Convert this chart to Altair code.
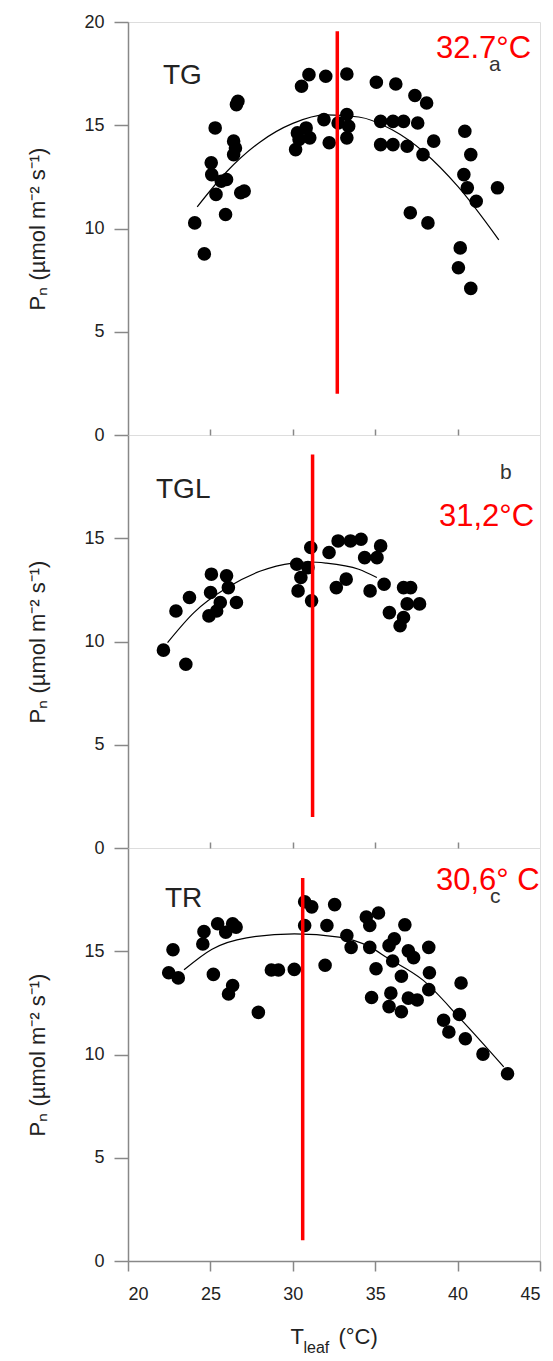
import altair as alt
import pandas as pd

# ---- Panel a: TG -------------------------------------------------------
tg_t = [24.05, 24.63, 25.29, 25.05, 25.08, 25.34, 25.66, 25.98, 25.92, 26.41,
        26.52, 26.41, 26.58, 26.67, 26.84, 27.05, 30.17, 30.28, 30.53, 30.98,
        30.81, 31.03, 30.38, 32.00, 31.89, 32.21, 33.28, 33.28, 33.39, 33.28,
        32.75, 35.07, 36.25, 35.33, 36.08, 36.72, 37.58, 35.33, 36.08, 36.94,
        37.41, 38.12, 37.90, 38.55, 37.13, 38.20, 40.44, 40.80, 40.38, 40.59,
        41.13, 40.16, 40.05, 40.80, 42.42]
tg_pn = [10.27, 8.77, 14.87, 13.18, 12.61, 11.65, 12.29, 12.37, 10.68, 14.23,
         13.90, 13.58, 16.00, 16.16, 11.73, 11.81, 13.82, 14.63, 16.89, 17.45,
         14.87, 14.39, 14.31, 17.37, 15.27, 14.15, 17.48, 15.52, 14.95, 14.39,
         15.11, 17.08, 17.00, 15.19, 15.19, 15.19, 15.11, 14.06, 14.06, 13.98,
         16.44, 16.08, 13.58, 14.23, 10.76, 10.27, 14.71, 13.58, 12.61, 11.97,
         11.32, 9.06, 8.10, 7.10, 11.97]
tg_fit_t = [24.2, 26, 28, 30, 32, 34, 36, 38, 40, 42.5]
tg_fit_pn = [11.05, 12.76, 14.18, 15.09, 15.50, 15.40, 14.79, 13.67, 12.05, 9.45]

# ---- Panel b: TGL ------------------------------------------------------
tgl_t = [22.15, 23.51, 22.91, 23.73, 25.06, 24.91, 25.01, 25.60, 25.98, 26.09,
         26.58, 25.38, 30.24, 30.32, 30.92, 31.14, 31.09, 30.49, 32.20, 32.75,
         33.50, 34.14, 34.36, 35.11, 35.33, 32.64, 33.24, 34.69, 35.54, 36.72,
         37.15, 35.86, 36.51, 36.94, 37.69, 36.72]
tgl_pn = [9.58, 8.90, 11.48, 12.13, 13.26, 11.24, 12.37, 11.89, 13.18, 12.61,
          11.89, 11.48, 13.74, 12.45, 13.58, 11.97, 14.55, 13.10, 14.31, 14.87,
          14.87, 14.95, 14.06, 14.06, 14.63, 12.61, 13.02, 12.45, 12.77, 12.61,
          12.61, 11.40, 10.76, 11.82, 11.82, 11.16]
tgl_fit_t = [22.4, 24, 26, 28, 30, 31, 32, 34, 35.1]
tgl_fit_pn = [9.95, 11.40, 12.60, 13.40, 13.80, 13.85, 13.80, 13.50, 13.10]

# ---- Panel c: TR -------------------------------------------------------
tr_t = [22.47, 23.05, 22.73, 24.61, 24.54, 25.44, 25.93, 26.35, 26.56, 25.18,
        26.10, 26.35, 27.91, 28.70, 29.13, 30.09, 30.72, 31.15, 30.72, 32.54,
        32.07, 31.96, 33.28, 33.54, 34.46, 34.67, 35.20, 34.67, 35.05, 34.78,
        35.84, 36.16, 36.06, 36.59, 35.95, 35.84, 36.59, 37.01, 37.55, 36.80,
        37.01, 37.33, 38.25, 38.29, 38.25, 39.15, 39.47, 40.11, 40.21, 40.47,
        41.54, 43.03]
tr_pn = [13.96, 13.71, 15.07, 15.95, 15.35, 16.33, 15.92, 16.33, 16.17, 13.88,
         12.93, 13.34, 12.04, 14.09, 14.09, 14.12, 17.40, 17.15, 16.25, 17.26,
         16.25, 14.32, 15.76, 15.19, 16.66, 16.25, 16.85, 15.19, 14.15, 12.76,
         15.27, 15.60, 14.53, 13.79, 12.97, 12.32, 12.07, 12.73, 12.64, 16.28,
         15.02, 14.69, 15.19, 13.96, 13.14, 11.66, 11.09, 11.94, 13.46, 10.76,
         10.02, 9.07]
tr_fit_t = [23.4, 25.1, 27.2, 30.1, 32.8, 34.7, 35.7, 37.9, 40.2, 42.8]
tr_fit_pn = [14.10, 15.10, 15.65, 15.84, 15.68, 15.20, 14.70, 13.60, 11.70, 9.40]

# optimum temperatures (°C) and the span of the marker line
optima = [32.7, 31.2, 30.6]
optima_text = ["32.7°C", "31,2°C", "30,6° C"]
line_lo = [2.0, 1.5, 1.0]
line_hi = [19.55, 19.05, 18.55]
groups = ["TG", "TGL", "TR"]
letters = ["a", "b", "c"]

FONT = "Liberation Sans"
W, H = 412, 413
DARK = "#222222"
GREY = "#888888"

# text placement inside each panel (pixels from the plot's top-left corner)
layout = [
    dict(group=(35, 62), letter=(361, 49), opt=(308, 36)),
    dict(group=(28, 63), letter=(372, 44), opt=(311, 91)),
    dict(group=(37, 59), letter=(362, 55), opt=(308, 42)),
]

X_SCALE = alt.Scale(domain=[20, 45], nice=False, zero=False)
Y_SCALE = alt.Scale(domain=[0, 20], nice=False)


def y_axis(values):
    return alt.Axis(
        values=values, tickSize=14, labelPadding=10, labelFontSize=18,
        labelColor=DARK, labelFont=FONT, domainColor=GREY, tickColor=GREY,
        domainWidth=1.5, tickWidth=1.5, grid=False,
        title="Pₙ (µmol m⁻² s⁻¹)", titleFont=FONT, titleFontSize=22,
        titleFontWeight="normal", titleColor=DARK, titleX=-79, titleY=H / 2,
    )


def inner_ticks():
    # ticks drawn on the shared border, pointing up into the panel above
    return alt.Axis(orient="top", values=[25, 30, 35, 40], labels=False,
                    domain=False, tickSize=6, tickWidth=1.5, tickColor=GREY,
                    grid=False, title=None)


def bottom_axis():
    return alt.Axis(
        orient="bottom", values=[20, 25, 30, 35, 40, 45], tickSize=10,
        tickWidth=1.5, tickColor=GREY, domainColor=GREY, domainWidth=1.5,
        labelFontSize=18, labelFont=FONT, labelColor=DARK, labelPadding=14,
        grid=False, title=None,
    )


def panel(i, t, pn, fit_t, fit_pn, x_axis_fn, y_vals, extra_top_axis=False):
    pts = pd.DataFrame({"T": t, "Pn": pn})
    fit = pd.DataFrame({"T": fit_t, "Pn": fit_pn})
    opt = pd.DataFrame({"T": [optima[i]], "Pn": [line_lo[i]], "hi": [line_hi[i]]})
    one = pd.DataFrame({"k": [0]})
    pos = layout[i]

    def xe():
        ax = x_axis_fn() if x_axis_fn else None
        return alt.X("T:Q", scale=X_SCALE, axis=ax)

    def ye():
        return alt.Y("Pn:Q", scale=Y_SCALE, axis=y_axis(y_vals))

    dots = alt.Chart(pts).mark_circle(size=185, color="black", opacity=1).encode(
        x=xe(), y=ye())
    curve = alt.Chart(fit).mark_line(color="black", strokeWidth=1.2,
                                     interpolate="monotone").encode(x=xe(), y=ye())
    rule = alt.Chart(opt).mark_rule(color="#ff0000", strokeWidth=3.5).encode(
        x=xe(), y=ye(), y2="hi:Q")
    grp = alt.Chart(one).mark_text(
        text=groups[i], font=FONT, fontSize=28, color=DARK,
        align="left", baseline="alphabetic",
    ).encode(x=alt.value(pos["group"][0]), y=alt.value(pos["group"][1]))
    let = alt.Chart(one).mark_text(
        text=letters[i], font=FONT, fontSize=21, color="#333333",
        align="left", baseline="alphabetic",
    ).encode(x=alt.value(pos["letter"][0]), y=alt.value(pos["letter"][1]))
    red = alt.Chart(one).mark_text(
        text=optima_text[i], font=FONT, fontSize=31, color="#ff0000",
        align="left", baseline="alphabetic",
    ).encode(x=alt.value(pos["opt"][0]), y=alt.value(pos["opt"][1]))

    core = alt.layer(dots, curve, rule, grp, let, red)
    if extra_top_axis:
        top = alt.Chart(pts).mark_point(opacity=0).encode(
            x=alt.X("T:Q", scale=X_SCALE, axis=inner_ticks()),
            y=ye(),
        )
        return alt.layer(core, top).resolve_axis(x="independent").properties(
            width=W, height=H)
    return core.properties(width=W, height=H)


pa = panel(0, tg_t, tg_pn, tg_fit_t, tg_fit_pn, None, [0, 5, 10, 15, 20])
pb = panel(1, tgl_t, tgl_pn, tgl_fit_t, tgl_fit_pn, inner_ticks, [0, 5, 10, 15])
pc_core = panel(2, tr_t, tr_pn, tr_fit_t, tr_fit_pn, bottom_axis, [0, 5, 10, 15],
                extra_top_axis=True)

# x-axis title with a subscript, placed under the bottom panel
one = pd.DataFrame({"k": [0]})
xt_T = alt.Chart(one).mark_text(text="T", font=FONT, fontSize=22, color=DARK,
                                align="left", baseline="alphabetic").encode(
    x=alt.value(162.5), y=alt.value(496))
xt_sub = alt.Chart(one).mark_text(text="leaf", font=FONT, fontSize=16, color=DARK,
                                  align="left", baseline="alphabetic").encode(
    x=alt.value(175.5), y=alt.value(505))
xt_unit = alt.Chart(one).mark_text(text="(°C)", font=FONT, fontSize=22, color=DARK,
                                   align="left", baseline="alphabetic").encode(
    x=alt.value(210.5), y=alt.value(496))

pc = alt.layer(pc_core, xt_T, xt_sub, xt_unit)

chart = alt.vconcat(pa, pb, pc, spacing=0, bounds="flush").properties(
    padding={"left": 25, "top": 12, "right": 5, "bottom": 5}
).configure_view(stroke=GREY, strokeWidth=1.5).configure(font=FONT, background="white")

chart.save("out.html", embed_options={"renderer": "svg", "actions": False})
